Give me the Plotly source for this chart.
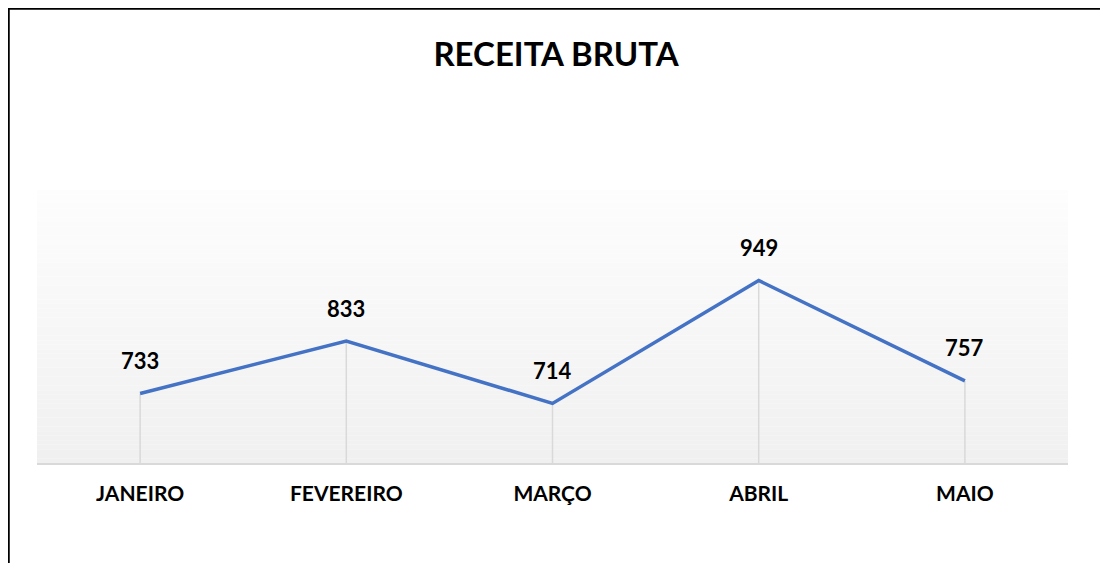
import plotly.graph_objects as go

categories = ["JANEIRO", "FEVEREIRO", "MARÇO", "ABRIL", "MAIO"]
values = [733, 833, 714, 949, 757]
title_text = "RECEITA BRUTA"

OFF = 8  # page body margin
W, H = 1108 - OFF, 563 - OFF
L, R, T, B = 37 - OFF, 1068 - OFF, 190 - OFF, 463 - OFF
y_min, y_max = 600, 1122

fig = go.Figure()

# drop lines
fig.add_trace(go.Scatter(
    x=categories, y=values, mode="markers",
    marker=dict(size=1, color="rgba(0,0,0,0)"),
    error_y=dict(type="data", symmetric=False,
                 array=[0]*len(values),
                 arrayminus=[v - y_min for v in values],
                 color="#d9d9d9", thickness=1.5, width=0),
    hoverinfo="skip", showlegend=False))

fig.add_trace(go.Scatter(
    x=categories, y=values, mode="lines",
    line=dict(color="#4472C4", width=3.5),
    showlegend=False))

for c, v in zip(categories, values):
    fig.add_annotation(x=c, y=v, text=f"<b>{v}</b>", showarrow=False,
                       yanchor="middle", yshift=33,
                       font=dict(family="Lato", size=22, color="#000000"))

# gradient background bands
n = 60
for i in range(n):
    t = i / (n - 1)
    g = round(253 - (253 - 240) * t)
    fig.add_shape(type="rect", xref="paper", yref="paper",
                  x0=0, x1=1, y0=1 - (i + 1) / n, y1=1 - i / n,
                  fillcolor=f"rgb({g},{g},{g})", line=dict(width=0),
                  layer="below")

pw, ph = R - L, B - T
def px_x(p): return (p - OFF - L) / pw
def px_y(p): return (B - (p - OFF)) / ph

# outer frame
fig.add_shape(type="rect", xref="paper", yref="paper",
              x0=px_x(8.5), x1=px_x(1104), y0=px_y(580), y1=px_y(8.5),
              line=dict(color="#000000", width=2.5), layer="above")

fig.update_layout(
    width=W, height=H,
    margin=dict(l=L, r=W - R, t=T, b=H - B),
    paper_bgcolor="#ffffff", plot_bgcolor="rgba(0,0,0,0)",
    title=dict(text=f"<b>{title_text}</b>", x=(556 - OFF) / W, xanchor="center",
               y=1 - (54 - OFF) / H, yanchor="middle", yref="container",
               font=dict(family="Lato", size=33, color="#000000")),
    xaxis=dict(range=[-0.5, len(categories) - 0.5],
               showgrid=False, zeroline=False, showline=True,
               linecolor="#d9d9d9", linewidth=2,
               ticks="outside", ticklen=11, tickcolor="rgba(0,0,0,0)",
               tickfont=dict(family="Lato", size=21, color="#000000"),
               tickprefix="<b>", ticksuffix="</b>", fixedrange=True),
    yaxis=dict(range=[y_min, y_max], visible=False, showgrid=False,
               zeroline=False, fixedrange=True),
    showlegend=False,
)

fig.write_html("out.html")
